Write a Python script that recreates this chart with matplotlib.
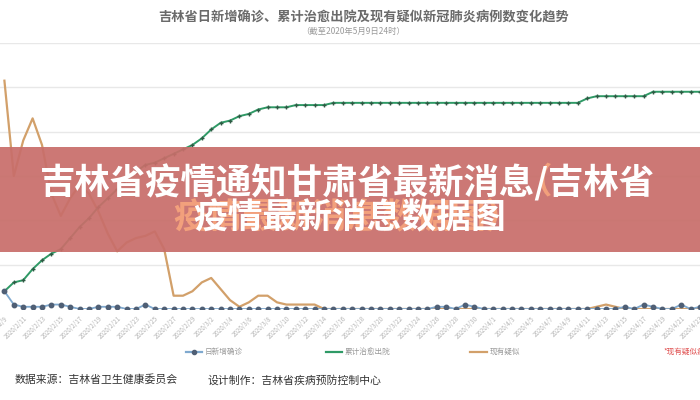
import matplotlib.pyplot as plt
from matplotlib.lines import Line2D
from matplotlib.patches import Rectangle

plt.rcParams['font.family'] = ['Noto Sans CJK SC', 'DejaVu Sans']

# 2020/2/9 .. 2020/4/23
month_days = [(2, 9, 29), (3, 1, 31), (4, 1, 23)]
dates = []
for m, d0, d1 in month_days:
    for d in range(d0, d1 + 1):
        dates.append(f'2020/{m}/{d}')

new_confirmed = [8, 2, 1, 1, 1, 2, 2, 1, 0, 0, 1, 1, 1, 0, 0, 2, 0,
                 0, 0, 0, 0, 0, 0, 0, 0, 0, 0, 0, 0, 0, 0, 0, 0, 0, 0, 0, 0, 0, 0, 0, 0, 0, 0, 0, 0, 0,
                 1, 1, 0, 2, 1,
                 0, 0, 0, 0, 0, 0, 0, 0, 0, 0, 0, 0, 0, 0, 0,
                 1, 0, 2, 1, 0, 0, 2, 0, 1]
cured = [8, 12, 13, 18, 22, 25, 27, 32, 37, 41, 46, 50, 54, 58, 62, 65, 66, 68, 70, 72,
         74, 77, 81, 84, 85, 87, 88, 90, 91,
         91, 91, 92, 92, 92, 92, 93, 93, 93,
         93, 93, 93, 93, 93, 93, 93, 93, 93, 93, 93, 93, 93, 93, 93, 93, 93, 93, 93, 93, 93, 93, 93, 93,
         95, 96, 96, 96, 96, 96, 96, 98, 98, 98, 98, 98, 98]
suspected = [103, 60, 76, 86, 74, 52, 42, 50, 56, 52, 44, 34, 26, 30, 32, 33, 35, 27, 6, 6,
             8, 12, 14, 9, 4, 1, 3, 6, 6, 3,
             2, 2, 2, 2,
             0, 0, 0, 0, 0, 0, 0, 0, 0, 0, 0, 0, 0, 0, 0, 0, 0, 0, 0, 0, 0, 0, 0, 0, 0, 0, 0, 0, 0,
             1, 2, 1,
             0, 0, 0, 0, 0, 0, 0, 0, 0]

legend_labels = ['日新增确诊', '累计治愈出院', '现有疑似']
c_blue, c_green, c_orange = '#7fa9cf', '#2f9a66', '#d2a06a'

x = list(range(len(dates)))

fig = plt.figure(figsize=(7, 4), dpi=100)
ax = fig.add_axes([0, 0.2275, 1, 0.665])
ax.plot(x, suspected, color=c_orange, lw=1.6, zorder=2)
ax.plot(x, cured, color=c_green, lw=1.4, marker='+', ms=3, mec='#2e5a44', zorder=3)
ax.plot(x, new_confirmed, color=c_blue, lw=1.3, marker='o', ms=3.2,
        mfc='#4f5f75', mec='#4f5f75', zorder=4)

ax.set_xlim(-0.47, 74.0)
ax.set_ylim(0, 120)
ax.set_yticks([20, 40, 60, 80, 100, 120])
ax.yaxis.grid(True, color='#e8e8e8', lw=1)
ax.set_axisbelow(True)
ax.tick_params(axis='y', length=0, labelleft=False)
ax.set_xticks(x[::2])
ax.set_xticklabels(dates[::2], rotation=45, ha='right', rotation_mode='anchor',
                   fontsize=4.5, color='#b5b5b5')
ax.tick_params(axis='x', length=0, pad=4)
for s in ax.spines.values():
    s.set_visible(False)

fig.text(0.52, 0.957, '吉林省日新增确诊、累计治愈出院及现有疑似新冠肺炎病例数变化趋势',
         ha='center', va='center', fontsize=9.5, fontweight='bold', color='#6a6a6a')
fig.text(0.505, 0.922, '（截至2020年5月9日24时）', ha='center', va='center',
         fontsize=6, color='#9a9a9a')

# legend
leg_x = [0.265, 0.465, 0.672]
leg_c = [c_blue, c_green, c_orange]
for lx, lc, lab in zip(leg_x, leg_c, legend_labels):
    fig.add_artist(Line2D([lx, lx + 0.024], [0.12, 0.12], color=lc, lw=1.6))
    if lc == c_blue:
        fig.add_artist(Line2D([lx + 0.012], [0.12], marker='o', ms=3, color='#4f5f75'))
    fig.text(lx + 0.028, 0.12, lab, ha='left', va='center', fontsize=5.5, color='#999999')
fig.text(0.948, 0.12, '*现有疑似病例数', ha='left', va='center', fontsize=5.5, color='#e05050')

fig.text(0.021, 0.05, '数据来源：吉林省卫生健康委员会', ha='left', va='center',
         fontsize=7.8, color='#333333')
fig.text(0.297, 0.05, '设计制作：吉林省疾病预防控制中心', ha='left', va='center',
         fontsize=7.8, color='#333333')

# overlay banner
fig.add_artist(Rectangle((0, 0.37), 1, 0.2625, transform=fig.transFigure,
                         color='#c86e6a', alpha=0.93, zorder=5, lw=0))
fig.text(0.738, 0.543, '（', ha='left', va='center',
         fontsize=25.5, fontweight='bold', color='#f2a07c', zorder=6)
fig.text(0.247, 0.455, '疫情最新消息数据图）', ha='left', va='center',
         fontsize=25, fontweight='bold', color='#f2a07c', zorder=6)
fig.text(0.496, 0.543, '吉林省疫情通知甘肃省最新消息/吉林省', ha='center', va='center',
         fontsize=25.5, fontweight='bold', color='white', zorder=7)
fig.text(0.5, 0.455, '疫情最新消息数据图', ha='center', va='center',
         fontsize=25, fontweight='bold', color='white', zorder=7)

fig.savefig('out.png', dpi=100, facecolor='white')
